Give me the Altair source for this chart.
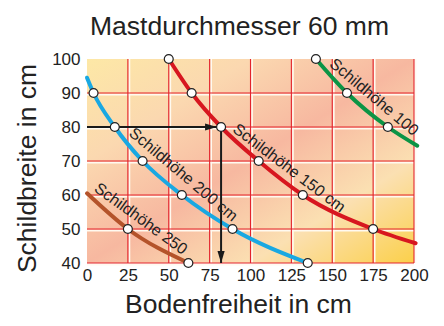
import altair as alt
import pandas as pd

FONT = "Liberation Sans"

# axis ticks
x_ticks = [0, 25, 50, 75, 100, 125, 150, 175, 200]
y_ticks = [40, 50, 60, 70, 80, 90, 100]
x_grid = [25, 50, 75, 100, 125, 150, 175, 200]
y_grid = [40, 50, 60, 70, 80, 90]

# curves (Bodenfreiheit, Schildbreite)
series_names = ["Schildhöhe 100", "Schildhöhe 150 cm", "Schildhöhe 200 cm", "Schildhöhe 250"]
series_colors = ["#0b9445", "#d7161f", "#19a8e2", "#b4532a"]

green_x = [140, 159, 184, 202]
green_y = [100, 90, 80, 74.5]
green_mark = [1, 1, 1, 0]

red_x = [50, 64, 82, 105, 132, 175, 201]
red_y = [100, 90, 80, 70, 60, 50, 45.8]
red_mark = [1, 1, 1, 1, 1, 1, 0]

blue_x = [0, 4, 17, 34, 58, 89, 135]
blue_y = [94.5, 90, 80, 70, 60, 50, 40]
blue_mark = [0, 1, 1, 1, 1, 1, 1]

brown_x = [0, 25, 62]
brown_y = [60.5, 50, 40]
brown_mark = [0, 1, 1]

# curve labels
label_text = series_names
label_x = [175.5, 123.6, 58.9, 32.9]
label_y = [88.8, 67.9, 66.0, 53.0]
label_angle = [40, 37, 40, 36]

# reading example
arrow_x0 = 0
arrow_x = 82
arrow_y = 80
arrow_y0 = 40

rows = []
for name, xs, ys, ms in zip(series_names,
                            [green_x, red_x, blue_x, brown_x],
                            [green_y, red_y, blue_y, brown_y],
                            [green_mark, red_mark, blue_mark, brown_mark]):
    for i, (a, b, m) in enumerate(zip(xs, ys, ms)):
        rows.append({"series": name, "x": a, "y": b, "mark": m, "order": i})
curves = pd.DataFrame(rows)
labels = pd.DataFrame({"text": label_text, "x": label_x, "y": label_y, "angle": label_angle})

xscale = alt.Scale(domain=[0, 200], nice=False, zero=False)
yscale = alt.Scale(domain=[40, 100], nice=False, zero=False)
xaxis = alt.Axis(values=x_ticks, ticks=False, domain=False, grid=False, labelPadding=4,
                 labelFlush=False,
                 title="Bodenfreiheit in cm", titleX=151, titleY=49, titleBaseline="alphabetic")
yaxis = alt.Axis(values=y_ticks, ticks=False, domain=False, grid=False, labelPadding=7,
                 labelFlush=False,
                 title="Schildbreite in cm", titleX=-52, titleY=109, titleBaseline="alphabetic")


def X(field):
    return alt.X(field, type="quantitative", scale=xscale, axis=xaxis)


def Y(field):
    return alt.Y(field, type="quantitative", scale=yscale, axis=yaxis)


gradient = {
    "gradient": "linear", "x1": 0, "y1": 0, "x2": 1, "y2": 1,
    "stops": [
        {"offset": 0.0, "color": "#fde8a6"},
        {"offset": 0.25, "color": "#fbd8b0"},
        {"offset": 0.5, "color": "#f7b8a0"},
        {"offset": 0.75, "color": "#fbe0b2"},
        {"offset": 1.0, "color": "#fbd04a"},
    ],
}

bg = alt.Chart(pd.DataFrame({"x0": [0], "x1": [200], "y0": [40], "y1": [100]})).mark_rect(
    fill=gradient, stroke=None
).encode(x=X("x0"), x2="x1", y=Y("y0"), y2="y1")

vgrid_df = pd.DataFrame({"x": x_grid})
hgrid_df = pd.DataFrame({"y": y_grid})
vgrid_w = alt.Chart(vgrid_df).mark_rule(color="#fffaf0", strokeWidth=1.6, xOffset=1.6).encode(
    x=X("x"), y=alt.value(0), y2=alt.value(204))
hgrid_w = alt.Chart(hgrid_df).mark_rule(color="#fffaf0", strokeWidth=1.6, yOffset=1.6).encode(
    y=Y("y"), x=alt.value(0), x2=alt.value(327))
vgrid_r = alt.Chart(vgrid_df).mark_rule(color="#e3232d", strokeWidth=1.1).encode(
    x=X("x"), y=alt.value(0), y2=alt.value(204))
hgrid_r = alt.Chart(hgrid_df).mark_rule(color="#e3232d", strokeWidth=1.1).encode(
    y=Y("y"), x=alt.value(0), x2=alt.value(327))

color = alt.Color("series:N", scale=alt.Scale(domain=series_names, range=series_colors), legend=None)

lines = alt.Chart(curves).mark_line(interpolate="monotone", strokeWidth=4, strokeCap="round").encode(
    x=X("x"), y=Y("y"), color=color, detail="series:N", order="order:Q")

arrow_df = pd.DataFrame({"x0": [arrow_x0], "x": [arrow_x], "y": [arrow_y], "y0": [arrow_y0]})
h_arrow = alt.Chart(arrow_df).mark_rule(color="#1a1a1a", strokeWidth=2).encode(
    x=X("x0"), x2="x", y=Y("y"))
v_arrow = alt.Chart(arrow_df).mark_rule(color="#1a1a1a", strokeWidth=2).encode(
    x=X("x"), y=Y("y"), y2="y0")
h_head = alt.Chart(arrow_df).mark_point(
    shape="M-1,-0.6L1,0L-1,0.6Z", filled=True, color="#1a1a1a", size=144, opacity=1, xOffset=-10
).encode(x=X("x"), y=Y("y"))
v_head = alt.Chart(arrow_df).mark_point(
    shape="M-0.6,-1L0,1L0.6,-1Z", filled=True, color="#1a1a1a", size=144, opacity=1, yOffset=-6
).encode(x=X("x"), y=Y("y0"))

dots = alt.Chart(curves).transform_filter("datum.mark == 1").mark_point(
    shape="circle", filled=True, fill="white", stroke="#222", strokeWidth=1.2, size=80, opacity=1
).encode(x=X("x"), y=Y("y"))

texts = alt.Chart(labels).mark_text(
    font=FONT, fontSize=16, color="#222", align="center", baseline="middle"
).encode(x=X("x"), y=Y("y"), text="text:N", angle=alt.Angle("angle:Q", scale=None))

chart = alt.layer(
    bg, vgrid_w, hgrid_w, vgrid_r, hgrid_r, lines, h_arrow, v_arrow, h_head, v_head, dots, texts
).properties(
    width=327, height=204,
    autosize=alt.AutoSizeParams(type="none"),
    padding={"left": 79, "top": 51, "right": 22, "bottom": 55},
    title=alt.TitleParams("Mastdurchmesser 60 mm", font=FONT, fontSize=26.5, fontWeight="normal",
                          color="#222", dx=-11, offset=10, anchor="middle"),
).configure_view(stroke=None).configure_axis(
    labelFont=FONT, labelFontSize=17, labelColor="#222",
    titleFont=FONT, titleFontSize=26.5, titleFontWeight="normal", titleColor="#222",
)

chart.save("out.html", embed_options={"renderer": "svg", "actions": False})
